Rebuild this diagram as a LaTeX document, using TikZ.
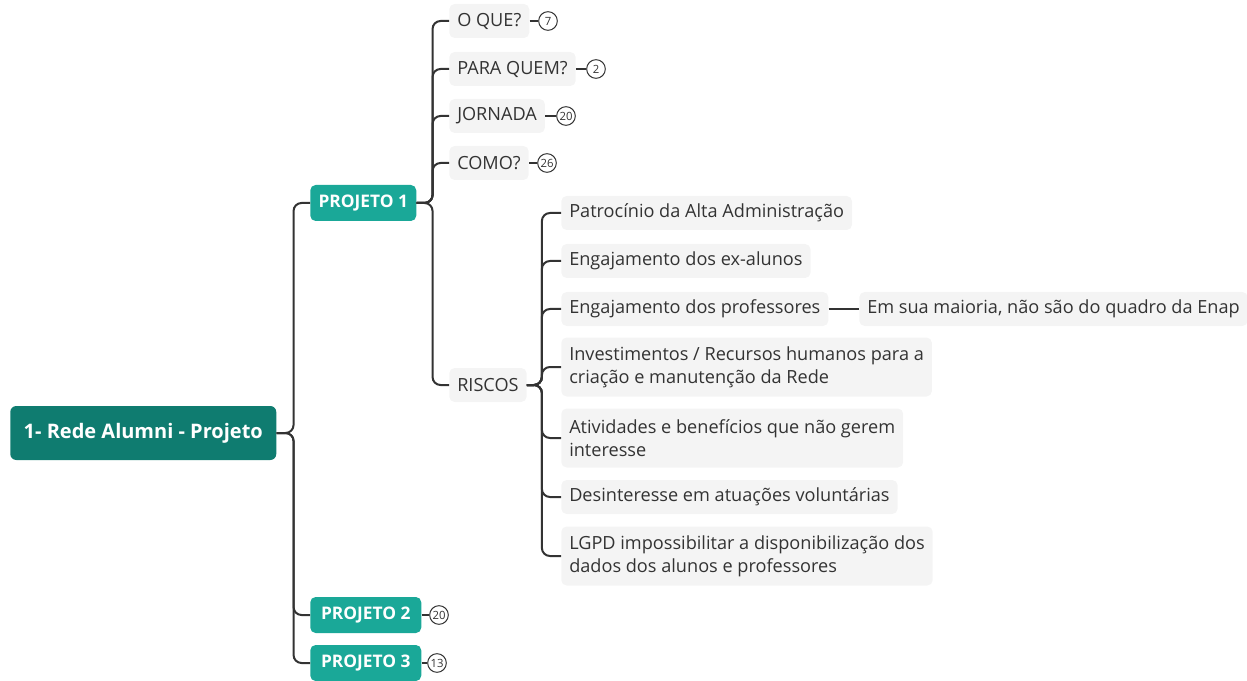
\documentclass[tikz,border=0pt]{standalone}
\usepackage{fontspec}
\setmainfont{Open Sans}
\definecolor{rootcol}{HTML}{0F7C70}
\definecolor{projcol}{HTML}{1AA898}
\definecolor{leafcol}{HTML}{F4F4F4}
\definecolor{txtcol}{HTML}{333333}
\definecolor{linecol}{HTML}{333333}
\begin{document}
\begin{tikzpicture}[x=0.75pt,y=-0.75pt,
    root/.style={fill=rootcol, text=white, font=\bfseries\fontsize{15}{16}\selectfont,
      rounded corners=4.5pt, minimum height=40.5pt, anchor=west, inner sep=0pt},
    proj/.style={fill=projcol, text=white, font=\bfseries\fontsize{13}{14}\selectfont,
      rounded corners=4pt, minimum height=27pt, anchor=west, inner sep=0pt},
    leaf/.style={fill=leafcol, text=txtcol, font=\fontsize{13.6}{17.25}\selectfont,
      rounded corners=4pt, minimum height=25.5pt, anchor=west, inner xsep=6pt,
      inner ysep=0pt, align=left},
    count/.style={circle, draw=linecol, line width=0.75pt, fill=white, minimum size=14pt,
      inner sep=0pt, font=\fontsize{8.5}{9}\selectfont, text=txtcol},
    link/.style={draw=linecol, line width=1.5pt, rounded corners=6pt}]
    \useasboundingbox (0,0) rectangle (1247,681);
    % root and projects
    \node[root, minimum width=199.5pt] (root) at (10,433) {1- Rede Alumni - Projeto};
    \node[proj, minimum width=79.5pt] (p1) at (310,203) {PROJETO 1};
    \node[proj, minimum width=83.25pt] (p2) at (310,615) {PROJETO 2};
    \node[proj, minimum width=83.25pt] (p3) at (310,663) {PROJETO 3};
    \node[count] (c-p2) at (439,615) {20};
    \node[count] (c-p3) at (437,663) {13};
    % projeto 1
    \node[leaf] (oque) at (449,21) {O QUE?};
    \node[leaf] (paraquem) at (449,69) {PARA QUEM?};
    \node[leaf] (jornada) at (449,116) {JORNADA};
    \node[leaf] (como) at (449,163) {COMO?};
    \node[leaf] (riscos) at (449,385) {RISCOS};
    \node[count] (c-oque) at (548,21) {7};
    \node[count] (c-paraquem) at (596,69) {2};
    \node[count] (c-jornada) at (566,116) {20};
    \node[count] (c-como) at (547,163) {26};
    % riscos
    \node[leaf] (patro) at (561,213) {Patrocínio da Alta Administração};
    \node[leaf] (exal) at (561,261) {Engajamento dos ex-alunos};
    \node[leaf] (prof) at (561,309) {Engajamento dos professores};
    \node[leaf] (enap) at (859,309) {Em sua maioria, não são do quadro da Enap};
    \node[leaf, minimum height=44.25pt] (invest) at (561,367)
        {Investimentos / Recursos humanos para a\\criação e manutenção da Rede};
    \node[leaf, minimum height=44.25pt] (ativ) at (561,438)
        {Atividades e benefícios que não gerem\\interesse};
    \node[leaf] (desint) at (561,497) {Desinteresse em atuações voluntárias};
    \node[leaf, minimum height=44.25pt] (lgpd) at (561,556)
        {LGPD impossibilitar a disponibilização dos\\dados dos alunos e professores};
    % connectors
    \foreach \n in {p1,p2,p3}
        \draw[link] (root.east) -- ++(17,0) |- (\n.west);
    \foreach \n in {oque,paraquem,jornada,como,riscos}
        \draw[link] (p1.east) -- ++(16,0) |- (\n.west);
    \foreach \n in {patro,exal,prof,invest,ativ,desint,lgpd}
        \draw[link] (riscos.east) -- ++(15,0) |- (\n.west);
    \draw[link] (prof.east) -- (enap.west);
    \foreach \n in {oque,paraquem,jornada,como,p2,p3}
        \draw[link, line width=1pt] (\n.east) -- (c-\n.west);
\end{tikzpicture}
\end{document}
